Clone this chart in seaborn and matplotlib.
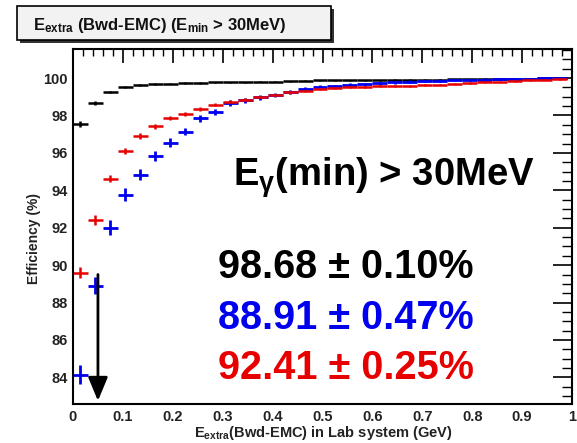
import numpy as np
import matplotlib
matplotlib.use("Agg")
import matplotlib.pyplot as plt
from matplotlib.patches import Rectangle
from matplotlib.ticker import MultipleLocator
import seaborn as sns

# Efficiency vs. E_extra cut, 0.03 GeV bins
bin_width = 0.03
bin_centers = np.arange(33) * bin_width + bin_width / 2

eff_black = [97.54, 98.68, 99.25, 99.52, 99.62, 99.66, 99.70, 99.72, 99.74, 99.76,
             99.77, 99.78, 99.80, 99.81, 99.83, 99.86, 99.87, 99.88, 99.88, 99.89,
             99.89, 99.90, 99.90, 99.91, 99.92, 99.93, 99.94, 99.95, 99.96, 99.97,
             99.97, 99.98, 99.99]
err_black = [0.15, 0.10, 0.07, 0.06, 0.05, 0.05, 0.04, 0.04, 0.04, 0.04,
             0.03, 0.03, 0.03, 0.03, 0.03, 0.03, 0.03, 0.03, 0.03, 0.03,
             0.03, 0.03, 0.03, 0.03, 0.03, 0.03, 0.03, 0.03, 0.03, 0.03,
             0.03, 0.03, 0.03]

eff_blue = [84.14, 88.91, 91.99, 93.76, 94.83, 95.84, 96.55, 97.14, 97.85, 98.20,
            98.66, 98.80, 98.98, 99.10, 99.27, 99.40, 99.50, 99.56, 99.62, 99.67,
            99.72, 99.76, 99.80, 99.83, 99.86, 99.88, 99.90, 99.92, 99.94, 99.96,
            99.97, 99.98, 99.99]
err_blue = [0.50, 0.47, 0.40, 0.35, 0.30, 0.27, 0.24, 0.21, 0.19, 0.17,
            0.15, 0.14, 0.13, 0.12, 0.11, 0.10, 0.10, 0.09, 0.09, 0.08,
            0.08, 0.08, 0.07, 0.07, 0.07, 0.06, 0.06, 0.06, 0.06, 0.05,
            0.05, 0.05, 0.05]

eff_red = [89.60, 92.41, 94.62, 96.11, 96.91, 97.42, 97.86, 98.09, 98.35, 98.57,
           98.74, 98.84, 98.98, 99.10, 99.24, 99.32, 99.40, 99.46, 99.50, 99.53,
           99.55, 99.57, 99.59, 99.61, 99.64, 99.68, 99.72, 99.76, 99.80, 99.84,
           99.88, 99.92, 99.95]
err_red = [0.28, 0.25, 0.20, 0.17, 0.15, 0.13, 0.12, 0.11, 0.10, 0.09,
           0.08, 0.08, 0.07, 0.07, 0.07, 0.06, 0.06, 0.06, 0.05, 0.05,
           0.05, 0.05, 0.05, 0.05, 0.04, 0.04, 0.04, 0.04, 0.04, 0.04,
           0.04, 0.04, 0.04]

cut_value = 0.05
summary_lines = ["98.68 \u00b1 0.10%", "88.91 \u00b1 0.47%", "92.41 \u00b1 0.25%"]
summary_colors = ["black", "#0000ee", "#e60000"]

sns.set_theme(style="white")
plt.rcParams["font.family"] = ["Liberation Sans", "DejaVu Sans"]
plt.rcParams["mathtext.fontset"] = "custom"
plt.rcParams["mathtext.rm"] = "Liberation Sans:bold"
plt.rcParams["mathtext.it"] = "Liberation Sans:bold"
plt.rcParams["mathtext.bf"] = "Liberation Sans:bold"

W, H = 577, 443
fig = plt.figure(figsize=(W / 100, H / 100), dpi=100)
fig.patch.set_facecolor("white")


def fx(px):
    return px / W


def fy(py):
    return 1 - py / H


ax = fig.add_axes([fx(73), fy(404), fx(572) - fx(73), fy(49) - fy(404)])
ax.set_facecolor("white")

xerr = [bin_width / 2] * len(bin_centers)
for eff, err, col, lw in [(eff_black, err_black, "black", 1.8),
                          (eff_blue, err_blue, "#0000ee", 2.0),
                          (eff_red, err_red, "#e60000", 1.8)]:
    ax.errorbar(bin_centers, eff, xerr=xerr, yerr=err, fmt="none",
                ecolor=col, elinewidth=lw, capsize=0)

ax.annotate("", xy=(cut_value, 82.75), xytext=(cut_value, 89.5),
            arrowprops=dict(arrowstyle="-|>,head_length=1.2,head_width=0.5",
                            color="black", lw=2.0, shrinkA=0, shrinkB=0))

ax.set_xlim(0, 1)
ax.set_ylim(82.58, 101.55)
ax.xaxis.set_minor_locator(MultipleLocator(0.02))
ax.yaxis.set_minor_locator(MultipleLocator(0.5))
ax.set_xticks(np.round(np.arange(0, 1.01, 0.1), 1))
ax.set_xticklabels(["0", "0.1", "0.2", "0.3", "0.4", "0.5", "0.6", "0.7", "0.8", "0.9", "1"])
ax.set_yticks([84, 86, 88, 90, 92, 94, 96, 98, 100])
ax.tick_params(axis="both", which="both", direction="in", top=True, right=True,
               colors="black", labelcolor="#222222")
ax.tick_params(axis="y", which="major", length=14, width=1.2, labelsize=10.5, pad=4)
ax.tick_params(axis="y", which="minor", length=7, width=1.0)
ax.tick_params(axis="x", which="major", length=10, width=1.2, labelsize=10.5, pad=4)
ax.tick_params(axis="x", which="minor", length=5, width=1.0)
for lab in ax.get_xticklabels() + ax.get_yticklabels():
    lab.set_fontweight("bold")
for sp in ax.spines.values():
    sp.set_color("black")
    sp.set_linewidth(1.5)

fig.text(fx(34), fy(238), "Efficiency (%)", rotation=90, ha="center", va="center",
         fontsize=10, fontweight="bold", color="#222222")
fig.text(fx(453), fy(437), r"E$_{\rm extra}$(Bwd-EMC) in Lab system (GeV)",
         ha="right", va="baseline", fontsize=10.5, fontweight="bold", color="#222222")

# title box with drop shadow
fig.patches.append(Rectangle((fx(20), fy(43)), fx(334) - fx(20), fy(9) - fy(43),
                             transform=fig.transFigure, facecolor="#333333",
                             edgecolor="none", zorder=1))
fig.patches.append(Rectangle((fx(17), fy(40)), fx(331) - fx(17), fy(6) - fy(40),
                             transform=fig.transFigure, facecolor="#f2f2f2",
                             edgecolor="black", linewidth=1.2, zorder=2))
fig.text(fx(33), fy(30), r"E$_{\rm extra}$ (Bwd-EMC) (E$_{\rm min}$ > 30MeV)",
         ha="left", va="baseline", fontsize=12, fontweight="bold", color="#111111",
         zorder=3)

fig.text(fx(233), fy(186), r"E$_{\gamma}$(min) > 30MeV", ha="left", va="baseline",
         fontsize=27.5, fontweight="bold", color="black")
for txt, col, base in zip(summary_lines, summary_colors, [278, 329, 379]):
    fig.text(fx(218), fy(base), txt, ha="left", va="baseline", fontsize=28.5,
             fontweight="bold", color=col)

fig.savefig("out.png", dpi=100, facecolor="white")
